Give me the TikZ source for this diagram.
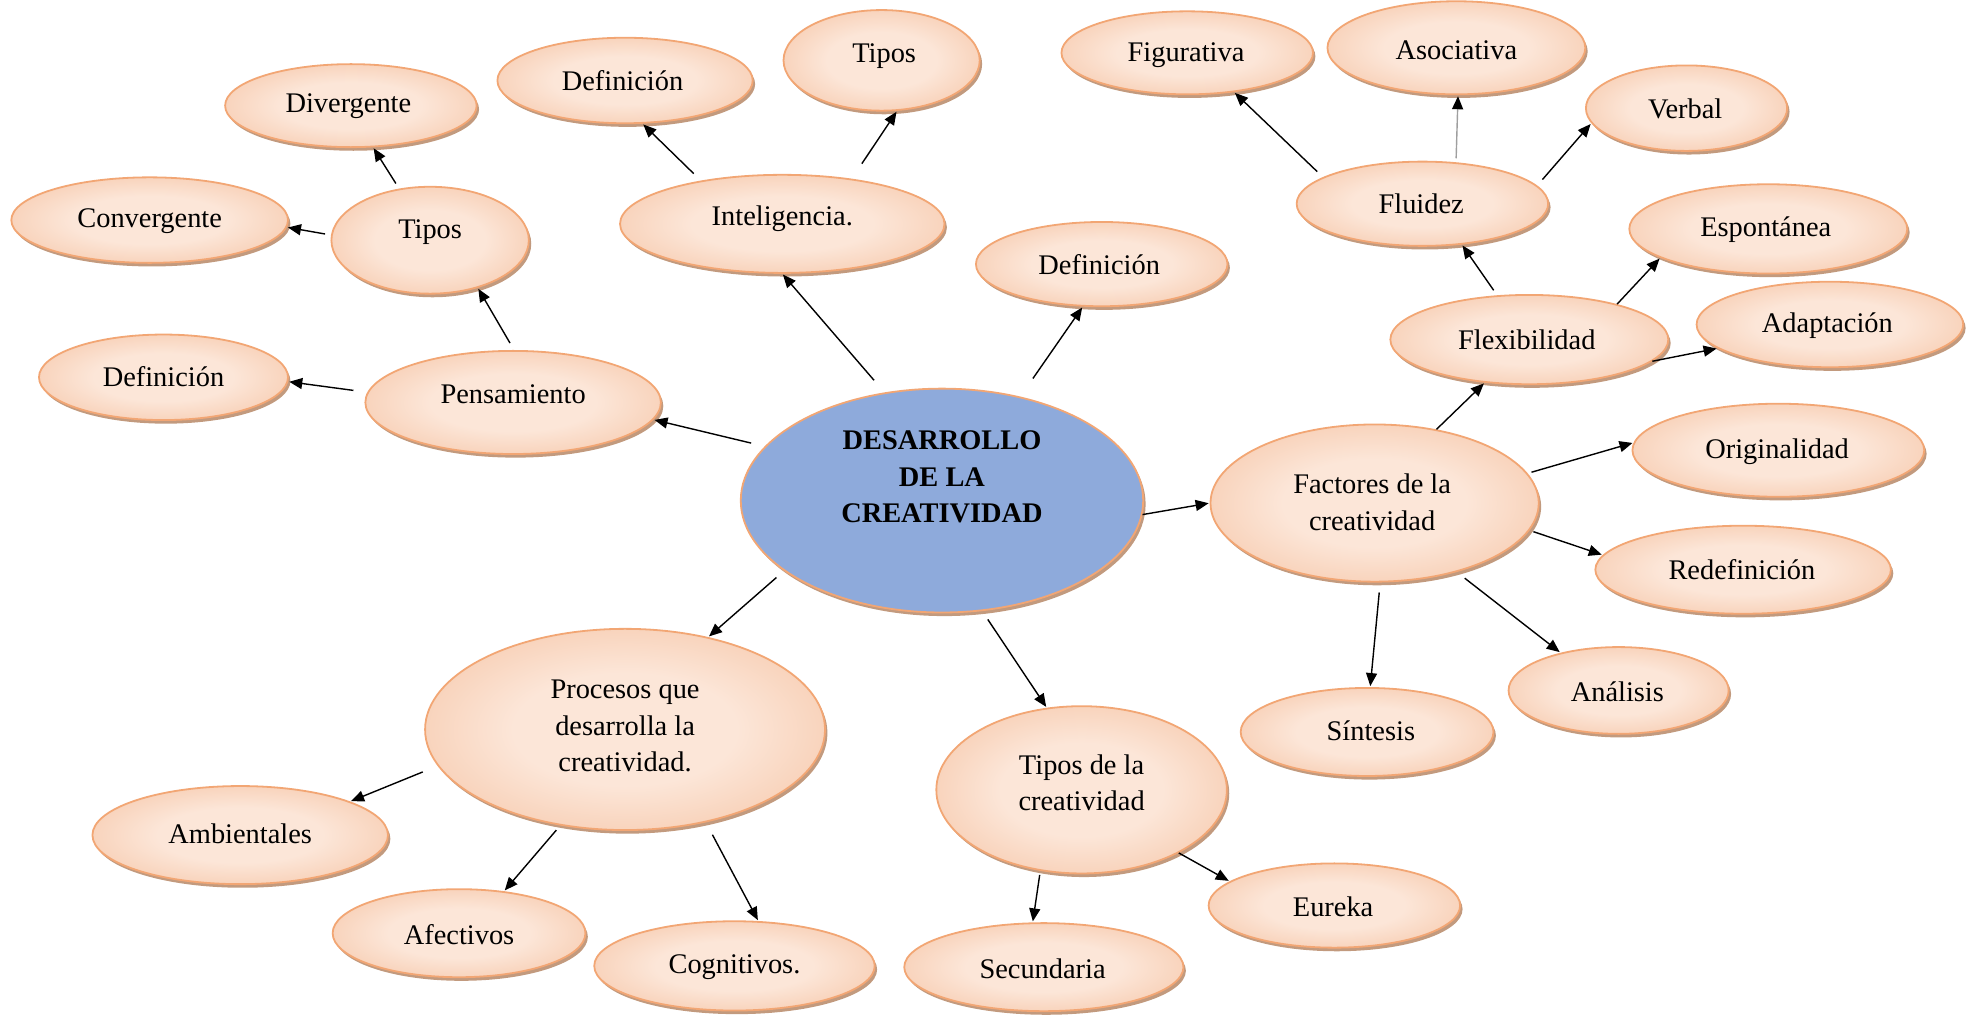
\documentclass[tikz,border=0pt]{standalone}
\usepackage{fontspec}
\setmainfont{Liberation Serif}
\usetikzlibrary{shapes.geometric,shadows,arrows.meta}
\definecolor{pchD}{RGB}{240,170,126}
\definecolor{pchL}{RGB}{252,230,216}
\definecolor{pchB}{RGB}{242,166,116}
\definecolor{shd}{RGB}{194,154,126}
\definecolor{cblue}{RGB}{142,170,219}
\pgfdeclareradialshading{peach}{\pgfpointorigin}{color(0bp)=(pchL); color(14bp)=(pchL); color(50bp)=(pchD)}
\tikzset{
  bub/.style={ellipse, draw=pchB, line width=0.9pt, shade, shading=peach, inner sep=0pt,
    drop shadow={shadow xshift=1.2pt, shadow yshift=-1.8pt, fill=shd, opacity=1}},
  hub/.style={ellipse, draw=pchB, line width=0.9pt, fill=cblue, inner sep=0pt,
    drop shadow={shadow xshift=1.2pt, shadow yshift=-1.8pt, fill=shd, opacity=1}},
  txt/.style={font=\fontsize{14.2}{18.2}\selectfont, align=center, inner sep=0pt, text=black, yshift=-1.4pt},
  arr/.style={-{Triangle[length=6.5pt,width=5.5pt]}, line width=0.7pt, black, shorten >=0.5pt},
}
\newcommand\bub[8]{%
  \node[bub, minimum width=#4*0.6288pt, minimum height=#5*0.6288pt] (#1) at (#2,#3) {};
  \node[txt] (#1t) at (#6,#7) {#8};}
\newcommand\link[5][3pt]{\draw[arr, shorten <=#1] (#2.#3) -- (#4.#5);}
\begin{document}
\begin{tikzpicture}[x=0.6288pt, y=-0.6288pt]
\useasboundingbox (0,0) rectangle (1568,809);
% central node
\node[hub, minimum width=320*0.6288pt, minimum height=178*0.6288pt] (C) at (749,398) {};
\node[txt, font=\fontsize{14.2}{18.2}\selectfont\bfseries] (Ct) at (749,377) {DESARROLLO\\DE LA\\CREATIVIDAD};
% left branch
\bub{Pens}{408}{320}{235}{82}{408}{311}{Pensamiento}
\bub{DefL}{130}{300}{198}{68}{130}{297}{Definición}
\bub{TipL}{342}{191}{157}{85}{342}{182}{Tipos}
\bub{Conv}{119}{175}{220}{68}{119}{174}{Convergente}
\bub{Div}{279}{84}{200}{66}{277}{82}{Divergente}
% intelligence
\bub{Int}{622}{178}{258}{78}{622}{172}{Inteligencia.}
\bub{DefT}{497}{64}{203}{68}{495}{62}{Definición}
\bub{TipT}{701}{48}{156}{80}{703}{42}{Tipos}
\bub{DefR}{876}{210}{200}{67}{874}{208}{Definición}
% factors
\bub{Fig}{944}{42}{200}{66}{943}{42}{Figurativa}
\bub{Aso}{1158}{38}{205}{74}{1158}{38}{Asociativa}
\bub{Ver}{1341}{86}{160}{68}{1340}{84}{Verbal}
\bub{Flu}{1131}{162}{200}{67}{1130}{160}{Fluidez}
\bub{Esp}{1406}{182}{221}{71}{1404}{180}{Espontánea}
\bub{Flex}{1216}{270}{221}{71}{1214}{268}{Flexibilidad}
\bub{Adap}{1455}{258}{212}{68}{1453}{257}{Adaptación}
\bub{Fac}{1093}{400}{261}{125}{1091}{397}{Factores de la\\creatividad}
\bub{Orig}{1414}{358}{232}{74}{1413}{357}{Originalidad}
\bub{Redef}{1386}{453}{235}{70}{1385}{451}{Redefinición}
\bub{Anal}{1287}{549}{175}{69}{1286}{548}{Análisis}
\bub{Sint}{1087}{582}{201}{70}{1090}{579}{Síntesis}
% types
\bub{TipC}{860}{628}{231}{133}{860}{620}{Tipos de la\\creatividad}
\bub{Eur}{1061}{720}{200}{67}{1060}{719}{Eureka}
\bub{Sec}{830}{769}{222}{70}{829}{768}{Secundaria}
% processes
\bub{Proc}{497}{580}{318}{160}{497}{575}{Procesos que\\desarrolla la\\creatividad.}
\bub{Amb}{191}{664}{235}{78}{191}{661}{Ambientales}
\bub{Afec}{365}{742}{201}{70}{365}{741}{Afectivos}
\bub{Cog}{584}{768}{223}{71}{584}{767}{Cognitivos.}
% connectors
\link[7pt]{C}{163.5}{Pens}{353.8}
\link[7pt]{Pens}{176}{DefL}{358}
\link[4pt]{Pens}{89}{TipL}{315}
\link[3pt]{TipL}{177}{Conv}{357.5}
\link[3pt]{TipL}{121}{Div}{298}
\link[8pt]{C}{118}{Int}{270}
\link[5pt]{Int}{152.5}{DefT}{292.5}
\link[9pt]{Int}{33.3}{TipT}{287.4}
\link[11pt]{C}{53}{DefR}{246}
\link[0pt]{C}{356}{Fac}{180}
\link[0pt]{Fac}{50.5}{Flex}{224.3}
\link[3pt]{Flex}{126.6}{Flu}{314.2}
\link[4pt]{Flu}{165.8}{Fig}{320.5}
\draw[arr, draw=gray!75, -{Triangle[length=6.5pt,width=5.5pt,color=black]}, shorten <=2pt] (Flu.51.9) -- (Aso.272.6);
\link[4pt]{Flu}{9.4}{Ver}{189}
\link[0pt]{Flex}{22.9}{Esp}{195.3}
\link[0pt]{Flex}{350.3}{Adap}{192.7}
\link[2pt]{Fac}{11.3}{Orig}{177}
\link[2pt]{Fac}{350.9}{Redef}{174.3}
\link[5pt]{Fac}{320.6}{Anal}{147.5}
\link[5pt]{Fac}{274.8}{Sint}{86.2}
\link[5pt]{C}{290}{TipC}{113}
\link[0pt]{TipC}{327}{Eur}{167.8}
\link[2pt]{TipC}{243}{Sec}{104.4}
\link[5pt]{C}{204}{Proc}{48.4}
\link[8pt]{Proc}{191.3}{Amb}{17.4}
\link[3pt]{Proc}{236.5}{Afec}{43.5}
\link[7pt]{Proc}{311.3}{Cog}{62.7}
\end{tikzpicture}
\end{document}
